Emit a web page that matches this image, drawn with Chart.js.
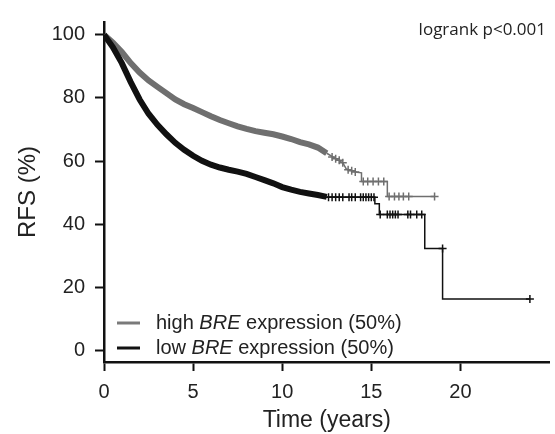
<!DOCTYPE html>
<html><head><meta charset="utf-8">
<script src="https://cdn.jsdelivr.net/npm/chart.js@4.4.1/dist/chart.umd.min.js"></script>
<style>html,body{margin:0;padding:0;background:#fff}#wrap{width:555px;height:434px}</style>
</head><body><div id="wrap"><canvas id="c" width="555" height="434"></canvas></div>
<script>
// ---- Data ----
const highTime = [0,0.5,1.0,1.5,2.0,2.5,3.0,3.5,4.0,4.5,5.0,5.5,6.0,6.5,7.0,7.5,8.0,8.5,9.0,9.5,10.0,10.5,11.0,11.5,12.0,12.5,13.0,13.4,13.6,14.2,14.45,14.45,15.9,15.9,18.55];
const highRFS  = [100,97.5,94.5,91,88,85.5,83.5,81.5,79.5,78,76.8,75.5,74.2,73,72,71,70.2,69.5,69,68.5,67.8,67,66,65.3,64.3,62.5,60.8,59.5,57.5,56.5,56.3,53.6,53.6,48.8,48.8];
const lowTime  = [0,0.5,1.0,1.5,2.0,2.5,3.0,3.5,4.0,4.5,5.0,5.5,6.0,6.5,7.0,7.5,8.0,8.5,9.0,9.5,10.0,10.5,11.0,11.5,12.0,12.5,15.2,15.2,15.45,15.45,18.0,18.0,19.0,19.0,23.9];
const lowRFS   = [100,96,91,85,79.5,75,71.5,68.5,65.8,63.6,61.7,60.1,58.9,58,57.3,56.7,56,55,54,53,51.8,51,50.3,49.8,49.3,48.7,48.6,46.5,46.5,43.1,43.1,32.4,32.4,16.4,16.4];
// censoring marks (+)
const highCensorTime = [12.8,13.0,13.2,13.4,13.7,13.9,14.1,14.55,14.8,15.1,15.4,15.7,16.0,16.3,16.55,16.8,17.1,18.55];
const highCensorRFS  = [61.3,60.8,60.3,59.5,57.3,57.0,56.6,53.6,53.6,53.6,53.6,53.6,48.8,48.8,48.8,48.8,48.8,48.8];
const lowCensorTime  = [12.6,12.8,13.0,13.2,13.4,13.75,13.9,14.1,14.4,14.55,14.7,14.85,15.0,15.15,15.5,15.9,16.05,16.2,16.35,16.5,17.05,17.2,17.55,17.83,19.0,23.9];
const lowCensorRFS   = [48.6,48.6,48.6,48.6,48.6,48.6,48.6,48.6,48.6,48.6,48.6,48.6,48.6,48.6,43.1,43.1,43.1,43.1,43.1,43.1,43.1,43.1,43.1,43.1,32.4,16.4];
const xTickValues = [0,5,10,15,20];
const yTickValues = [0,20,40,60,80,100];
const legendPrefix = ['high ','low '];
const legendGene = 'BRE';
const legendSuffix = ' expression (50%)';
const seriesLabels = ['high BRE expression (50%)','low BRE expression (50%)'];
const pText = 'logrank p<0.001';

const GREY = '#6f6f6f', BLACK = '#111111';
const pts = (xs, ys) => xs.map((x,i)=>({x, y: ys[i]}));

const overlay = {
  id:'overlay',
  afterDraw(chart){
    const ctx = chart.ctx;
    ctx.save();
    // p-value
    ctx.font = '17px "Open Sans"';
    ctx.fillStyle = '#222';
    ctx.textAlign = 'right'; ctx.textBaseline = 'middle';
    ctx.fillText(pText, 546, 30);
    // legend
    const rows = [{c:'#7a7a7a', y:323},{c:BLACK, y:348}];
    ctx.textAlign = 'left';
    rows.forEach((r,i)=>{
      ctx.strokeStyle = r.c; ctx.lineWidth = 3;
      ctx.beginPath(); ctx.moveTo(117, r.y); ctx.lineTo(140, r.y); ctx.stroke();
      ctx.fillStyle = '#222';
      let x = 156;
      ctx.font = '20px "Liberation Sans"';
      ctx.fillText(legendPrefix[i], x, r.y); x += ctx.measureText(legendPrefix[i]).width;
      ctx.font = 'italic 20px "Liberation Sans"';
      ctx.fillText(legendGene, x, r.y); x += ctx.measureText(legendGene).width;
      ctx.font = '20px "Liberation Sans"';
      ctx.fillText(legendSuffix, x, r.y);
    });
    ctx.restore();
  }
};

new Chart(document.getElementById('c'), {
  type:'line',
  data:{ datasets:[
    { label: seriesLabels[0], data: pts(highTime, highRFS), borderColor: GREY, pointRadius:0, tension:0, order:2,
      segment:{ borderWidth: c => c.p0.parsed.x < 12.5 ? 6 : 1.5 } },
    { label: seriesLabels[1], data: pts(lowTime, lowRFS), borderColor: BLACK, pointRadius:0, tension:0, order:1,
      segment:{ borderWidth: c => c.p0.parsed.x < 12.5 ? 6 : 1.5 } },
    { label:'high censored', data: pts(highCensorTime, highCensorRFS), showLine:false, pointStyle:'cross', pointRadius:4, borderColor: GREY, borderWidth:1.5, order:2 },
    { label:'low censored', data: pts(lowCensorTime, lowCensorRFS), showLine:false, pointStyle:'cross', pointRadius:4, borderColor: BLACK, borderWidth:1.5, order:1 }
  ]},
  options:{
    responsive:false, animation:false, devicePixelRatio:1,
    layout:{ padding:{ top:13, right:4, left:0, bottom:0 } },
    plugins:{ legend:{display:false}, tooltip:{enabled:false} },
    scales:{
      x:{ type:'linear', min:0, max:25,
        afterBuildTicks: s => { s.ticks = xTickValues.map(v=>({value:v})); },
        afterFit: s => { s.height = 72; },
        ticks:{ color:'#222', font:{family:'"Liberation Sans"', size:20}, padding:9, maxRotation:0 },
        grid:{ drawOnChartArea:false, drawTicks:true, tickLength:9, tickWidth:2, tickColor:'#111' },
        border:{ display:true, color:'#111', width:2.5 },
        title:{ display:true, text:'Time (years)', color:'#222', font:{family:'"Liberation Sans"', size:23}, padding:{top:0,bottom:0} }
      },
      y:{ type:'linear', min:-3.5, max:104,
        afterBuildTicks: s => { s.ticks = yTickValues.map(v=>({value:v})); },
        afterFit: s => { s.width = 104; },
        ticks:{ color:'#222', font:{family:'"Liberation Sans"', size:20}, padding:10 },
        grid:{ drawOnChartArea:false, drawTicks:true, tickLength:9, tickWidth:2, tickColor:'#111' },
        border:{ display:true, color:'#111', width:2.5 },
        title:{ display:true, text:'RFS (%)', color:'#222', font:{family:'"Liberation Sans"', size:24}, padding:{top:14,bottom:14} }
      }
    }
  },
  plugins:[overlay]
});
</script></body></html>
